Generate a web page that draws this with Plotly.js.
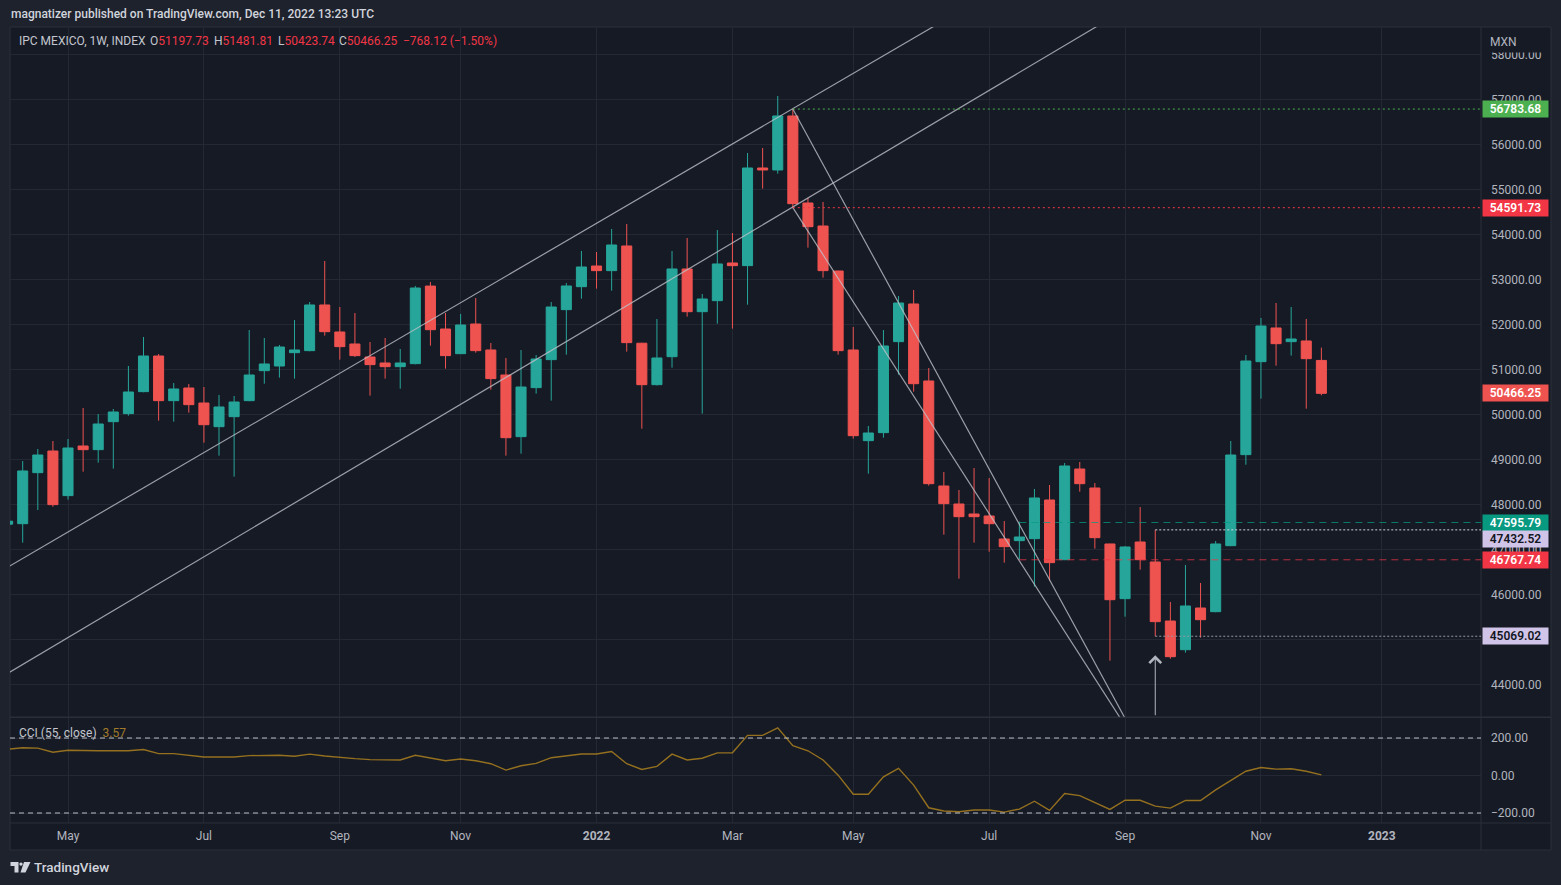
<!DOCTYPE html>
<html>
<head>
<meta charset="utf-8">
<script src="https://cdn.plot.ly/plotly-3.0.1.min.js"></script>
<style>
html,body{margin:0;padding:0;background:#1e222d;overflow:hidden}
#chart{width:1561px;height:885px}
</style>
</head>
<body>
<div id="chart"></div>
<script>
// ---------- DATA ----------
const weekDates = [
'2021-04-05','2021-04-12','2021-04-19','2021-04-26','2021-05-03','2021-05-10','2021-05-17','2021-05-24','2021-05-31','2021-06-07',
'2021-06-14','2021-06-21','2021-06-28','2021-07-05','2021-07-12','2021-07-19','2021-07-26','2021-08-02','2021-08-09','2021-08-16',
'2021-08-23','2021-08-30','2021-09-06','2021-09-13','2021-09-20','2021-09-27','2021-10-04','2021-10-11','2021-10-18','2021-10-25',
'2021-11-01','2021-11-08','2021-11-15','2021-11-22','2021-11-29','2021-12-06','2021-12-13','2021-12-20','2021-12-27','2022-01-03',
'2022-01-10','2022-01-17','2022-01-24','2022-01-31','2022-02-07','2022-02-14','2022-02-21','2022-02-28','2022-03-07','2022-03-14',
'2022-03-21','2022-03-28','2022-04-04','2022-04-11','2022-04-18','2022-04-25','2022-05-02','2022-05-09','2022-05-16','2022-05-23',
'2022-05-30','2022-06-06','2022-06-13','2022-06-20','2022-06-27','2022-07-04','2022-07-11','2022-07-18','2022-07-25','2022-08-01',
'2022-08-08','2022-08-15','2022-08-22','2022-08-29','2022-09-05','2022-09-12','2022-09-19','2022-09-26','2022-10-03','2022-10-10',
'2022-10-17','2022-10-24','2022-10-31','2022-11-07','2022-11-14','2022-11-21','2022-11-28','2022-12-05'];

const openPrices = [
47560,47570,48704,49185,48193,49296,49215,49837,50015,50504,
51296,50304,50585,50252,49726,49948,50304,50970,51074,51370,
51415,52430,51830,51563,51274,51141,51059,51126,52850,51896,
51348,52007,51430,50874,49504,50593,51215,52326,52837,53296,
53193,53741,51580,50659,51281,53230,52281,52526,53363,53304,
55474,55430,56630,54696,54185,53185,51430,49415,49593,51615,
52452,50741,48407,48007,47785,47741,47230,47193,47237,48096,
46770,48785,48363,47119,45904,47163,46719,45407,44770,45696,
45615,47081,49104,51170,51919,51615,51630,51197.73];

const highPrices = [
47700,48963,49230,49407,49452,50141,50007,50119,51074,51719,
51341,50696,50674,50607,50430,50407,51874,51696,51541,52096,
52496,53407,52385,52252,51607,51696,51452,52852,52941,52252,
52230,52585,51585,51252,51430,51319,52496,52919,53630,53607,
54119,54230,51590,52119,53630,53919,52674,54096,54030,55807,
55919,57074,56783.68,54807,54719,53190,51941,49741,51874,52630,
52763,51030,48719,48319,48807,48585,47630,47615,48341,48430,
48919,48941,48474,47125,47074,47941,47432.52,45830,46652,46252,
47185,49407,51319,52141,52474,52385,52119,51481.81];

const lowPrices = [
47480,47148,47874,47948,48104,48726,48926,48793,49970,50490,
49859,49837,50037,49370,49081,48615,50290,50681,50815,50793,
51400,51748,51215,51274,50415,50793,50570,51110,51526,51015,
51340,51370,50548,49081,49126,50459,50304,51326,52570,52793,
52748,51393,49681,50640,51037,52170,50015,52015,51904,52437,
55015,55348,54591.73,53704,53037,51326,49459,48681,49481,50881,
50504,48415,47326,46348,47148,46948,46704,46770,46170,46304,
46760,48281,47015,44526,45504,46548,45069.02,44570,44704,45037,
45600,47070,48881,50348,51081,51304,50126,50423.74];

const closePrices = [
47625,48741,49096,47993,49252,49215,49785,50052,50496,51296,
50304,50563,50215,49770,50163,50274,50874,51119,51496,51430,
52430,51837,51504,51304,51104,51059,51141,52807,51881,51304,
51985,51415,50793,49481,50607,51230,52385,52852,53274,53193,
53763,51593,50659,51252,53230,52281,52563,53341,53304,55474,
55430,56630,54681,54170,53193,51415,49526,49585,51519,52474,
50681,48459,48015,47726,47726,47570,47059,47274,48141,46704,
48852,48459,47259,45881,47052,46770,45393,44615,45741,45437,
47119,49096,51185,51963,51570,51674,51237,50466.25];

const cciValues = [
140,148,146,124,135,132,132,132,132,139,
117,117,110,99,99,99,106,106,108,103,
114,104,95,90,85,83,83,108,92,79,
88,79,63,29,52,65,95,106,115,115,
128,63,32,49,114,83,92,121,121,214,
214,254,159,132,83,2,-100,-100,-7,38,
-51,-172,-189,-193,-184,-184,-195,-179,-137,-186,
-96,-107,-146,-181,-132,-132,-163,-174,-133,-133,
-77,-26,23,43,34,36,23,3.57];

const cciBands = [200, -200];

const monthTickDates = ['2021-05-03','2021-07-05','2021-09-06','2021-11-01','2022-01-03','2022-03-07',
                        '2022-05-02','2022-07-04','2022-09-05','2022-11-07','2023-01-02'];
const monthTickLabels = ['May','Jul','Sep','Nov','<b>2022</b>','Mar','May','Jul','Sep','Nov','<b>2023</b>'];

// drawn trend lines (start date, start price, end date, end price)
const trendStartDates  = ['2021-04-05','2021-04-05','2022-04-04','2022-04-04'];
const trendStartPrices = [46602, 44242, 56783.68, 54591.73];
const trendEndDates    = ['2022-12-05','2022-12-05','2022-09-12','2022-09-12'];
const trendEndPrices   = [63651, 61584, 42630, 42561];

// drawn horizontal levels
const levelPrices     = [56783.68, 54591.73, 47595.79, 47432.52, 46767.74, 45069.02];
const levelStartDates = ['2022-04-04','2022-04-04','2022-07-18','2022-09-19','2022-07-18','2022-09-19'];

const lastPrice = 50466.25;
const arrowDate = '2022-09-19';
const arrowTipPrice = 44644;

const legendValues = {O:'51197.73', H:'51481.81', L:'50423.74', C:'50466.25', chg:'\u2212768.12 (\u22121.50%)'};
const cciLast = '3.57';

// ---------- STYLE / LAYOUT ----------
const PANE_BG = '#161a25', OUTER_BG = '#1e222d', GRID = '#242834', BORDER = '#2a2e39';
const TXT = '#b2b5be', UP = '#26a69a', DOWN = '#ef5350', CCI_COL = '#94701f';
const FONT = 'Roboto, "Liberation Sans", sans-serif';

const levelLineStyles = [
  {color:'#4caf50', dash:'2px,3px'},
  {color:'#f23645', dash:'2px,3px'},
  {color:'rgba(8,153,129,0.75)', dash:'7px,5px'},
  {color:'#d1d4dc', dash:'2px,2px'},
  {color:'rgba(242,54,69,0.75)', dash:'7px,5px'},
  {color:'#9598a1', dash:'2px,2px'}
];
const levelLabelStyles = [
  {bg:'#4caf50', fg:'#ffffff', shift:0},
  {bg:'#f23645', fg:'#ffffff', shift:0},
  {bg:'#089981', fg:'#ffffff', shift:0},
  {bg:'#d1c4e9', fg:'#131722', shift:-9.5},
  {bg:'#f23645', fg:'#ffffff', shift:0},
  {bg:'#d1c4e9', fg:'#131722', shift:0}
];

const PL = 10, PR = 1481, PT = 27, PB = 823;
const fx = px => (px - PL) / (PR - PL);
const fy = py => (PB - py) / (PB - PT);

const priceRange = [43280, 58607];
const cciRange = [-253.3, 309.3];

const traces = [
  {
    type:'candlestick', x:weekDates, open:openPrices, high:highPrices, low:lowPrices, close:closePrices,
    xaxis:'x', yaxis:'y',
    increasing:{line:{color:UP, width:1}, fillcolor:UP},
    decreasing:{line:{color:DOWN, width:1}, fillcolor:DOWN},
    whiskerwidth:0, hoverinfo:'skip', showlegend:false
  },
  {
    type:'scatter', mode:'lines', x:weekDates, y:cciValues, xaxis:'x', yaxis:'y2',
    line:{color:CCI_COL, width:1.4}, hoverinfo:'skip', showlegend:false
  }
];

const shapes = [];
// pane background + borders
shapes.push({type:'rect', xref:'paper', yref:'paper', x0:fx(10), x1:fx(1551), y0:fy(850), y1:fy(27),
  fillcolor:PANE_BG, line:{color:BORDER, width:1}, layer:'below'});
shapes.push({type:'line', xref:'paper', yref:'paper', x0:fx(1481), x1:fx(1481), y0:fy(850), y1:fy(27),
  line:{color:BORDER, width:1}, layer:'above'});
shapes.push({type:'line', xref:'paper', yref:'paper', x0:fx(10), x1:fx(1551), y0:fy(717.2), y1:fy(717.2),
  line:{color:BORDER, width:1.5}, layer:'above'});
shapes.push({type:'line', xref:'paper', yref:'paper', x0:fx(10), x1:fx(1551), y0:fy(823), y1:fy(823),
  line:{color:BORDER, width:1}, layer:'above'});

// CCI bands
cciBands.forEach(v => shapes.push({type:'line', xref:'paper', yref:'y2', x0:0, x1:1, y0:v, y1:v,
  line:{color:'rgba(215,217,225,0.85)', width:1, dash:'5px,4px'}, layer:'above'}));

// trend lines
trendStartDates.forEach((d, i) => shapes.push({type:'line', xref:'x', yref:'y',
  x0:d, y0:trendStartPrices[i], x1:trendEndDates[i], y1:trendEndPrices[i],
  line:{color:'rgba(190,192,200,0.8)', width:1.2}, layer:'above'}));

// horizontal levels
levelPrices.forEach((p, i) => shapes.push({type:'line', xref:'x', yref:'y',
  x0:levelStartDates[i], x1:'2023-06-01', y0:p, y1:p,
  line:{color:levelLineStyles[i].color, width:1, dash:levelLineStyles[i].dash}, layer:'above'}));

const ann = [];
const baseFont = {family:FONT, size:12, color:TXT};
ann.push({xref:'paper', yref:'paper', x:fx(9), y:fy(14), xanchor:'left', yanchor:'middle', showarrow:false,
  text:'magnatizer published on TradingView.com, Dec 11, 2022 13:23 UTC',
  font:{family:FONT, size:12, color:'#d1d4dc', weight:500}});
ann.push({xref:'paper', yref:'paper', x:fx(17), y:fy(41), xanchor:'left', yanchor:'middle', showarrow:false,
  text:'IPC MEXICO, 1W, INDEX', font:{family:FONT, size:12, color:'#c3c6ce'}});
const legendSeg = [['O', legendValues.O, 148], ['H', legendValues.H, 212], ['L', legendValues.L, 276], ['C', legendValues.C, 337]];
legendSeg.forEach(s => ann.push({xref:'paper', yref:'paper', x:fx(s[2]), y:fy(41), xanchor:'left', yanchor:'middle',
  showarrow:false, text:s[0] + '<span style="color:#f23645">' + s[1] + '</span>', font:{family:FONT, size:12, color:'#c3c6ce'}}));
ann.push({xref:'paper', yref:'paper', x:fx(401), y:fy(41), xanchor:'left', yanchor:'middle', showarrow:false,
  text:legendValues.chg, font:{family:FONT, size:12, color:'#f23645'}});

// CCI legend
ann.push({xref:'paper', yref:'paper', x:fx(17), y:fy(733), xanchor:'left', yanchor:'middle', showarrow:false,
  text:'CCI (55, close)  <span style="color:' + '#a07a28' + '">' + cciLast + '</span>', font:{family:FONT, size:12, color:'#c3c6ce'}});

// MXN
ann.push({xref:'paper', yref:'paper', x:1, xshift:5, y:fy(41), xanchor:'left', yanchor:'middle', showarrow:false,
  text:'MXN', align:'left', width:56, height:15, borderpad:3, bgcolor:PANE_BG, font:{family:FONT, size:12, color:TXT}});

// price labels
levelPrices.forEach((p, i) => ann.push({xref:'paper', yref:'y', x:1, xshift:0.5, y:p, yshift:levelLabelStyles[i].shift,
  xanchor:'left', yanchor:'middle', showarrow:false, text:p.toFixed(2), align:'center', width:61, height:12, borderpad:2,
  bgcolor:levelLabelStyles[i].bg, font:{family:FONT, size:12, color:levelLabelStyles[i].fg, weight:600}}));
ann.push({xref:'paper', yref:'y', x:1, xshift:0.5, y:lastPrice, xanchor:'left', yanchor:'middle', showarrow:false,
  text:lastPrice.toFixed(2), align:'center', width:61, height:12, borderpad:2, bgcolor:DOWN,
  font:{family:FONT, size:12, color:'#ffffff', weight:600}});

// arrow
ann.push({xref:'x', yref:'y', x:arrowDate, y:arrowTipPrice, axref:'x', ayref:'y', ax:arrowDate, ay:priceRange[0],
  text:'', showarrow:true, arrowhead:4, arrowsize:2.3, arrowwidth:1, arrowcolor:'#b2b5be', standoff:0, startstandoff:0});

// footer
ann.push({xref:'paper', yref:'paper', x:fx(32), y:fy(867), xanchor:'left', yanchor:'middle', showarrow:false,
  text:'TradingView', font:{family:FONT, size:13.5, color:'#d1d4dc', weight:500}});

// TradingView logo (paper-referenced decorative path)
const P = (x, y) => fx(x).toFixed(5) + ',' + fy(y).toFixed(5);
shapes.push({type:'path', xref:'paper', yref:'paper',
  path:'M' + P(10.5,862) + 'L' + P(18.5,862) + 'L' + P(18.5,872.5) + 'L' + P(14.5,872.5) + 'L' + P(14.5,866) + 'L' + P(10.5,866) + 'Z',
  fillcolor:'#d1d4dc', line:{width:0}});
shapes.push({type:'circle', xref:'paper', yref:'paper', x0:fx(19.3), x1:fx(22.7), y0:fy(865.8), y1:fy(862.4),
  fillcolor:'#d1d4dc', line:{width:0}});
shapes.push({type:'path', xref:'paper', yref:'paper',
  path:'M' + P(24,862) + 'L' + P(30.5,862) + 'L' + P(25.5,872.5) + 'L' + P(20.5,872.5) + 'Z',
  fillcolor:'#d1d4dc', line:{width:0}});

const layout = {
  width:1561, height:885,
  margin:{l:PL, r:1561 - PR, t:PT, b:885 - PB, pad:0},
  paper_bgcolor:OUTER_BG, plot_bgcolor:'rgba(0,0,0,0)',
  showlegend:false, hovermode:false,
  boxgap:0.1, boxgroupgap:0.26,
  font:baseFont,
  xaxis:{type:'date', range:['2021-04-06 02:40', '2023-02-17 00:00'], anchor:'y2',
    tickvals:monthTickDates, ticktext:monthTickLabels, showgrid:true, gridcolor:GRID, gridwidth:1,
    zeroline:false, showline:false, ticks:'', ticklabelstandoff:4,
    tickfont:{family:FONT, size:12, color:TXT}, rangeslider:{visible:false}, fixedrange:true},
  yaxis:{domain:[0.1335, 1], range:priceRange, side:'right', dtick:1000, tick0:0, tickformat:'.2f',
    showgrid:true, gridcolor:GRID, zeroline:false, showline:false, ticks:'', ticklabelstandoff:9,
    tickfont:{family:FONT, size:12, color:TXT}, fixedrange:true, anchor:'x'},
  yaxis2:{domain:[0, 0.1325], range:cciRange, side:'right', tickvals:[-200, 0, 200], tickformat:'.2f',
    showgrid:true, gridcolor:GRID, zeroline:false, showline:false, ticks:'', ticklabelstandoff:9,
    tickfont:{family:FONT, size:12, color:TXT}, fixedrange:true, anchor:'x'},
  shapes:shapes,
  annotations:ann
};

Plotly.newPlot('chart', traces, layout, {displayModeBar:false, staticPlot:true});
</script>
</body>
</html>
